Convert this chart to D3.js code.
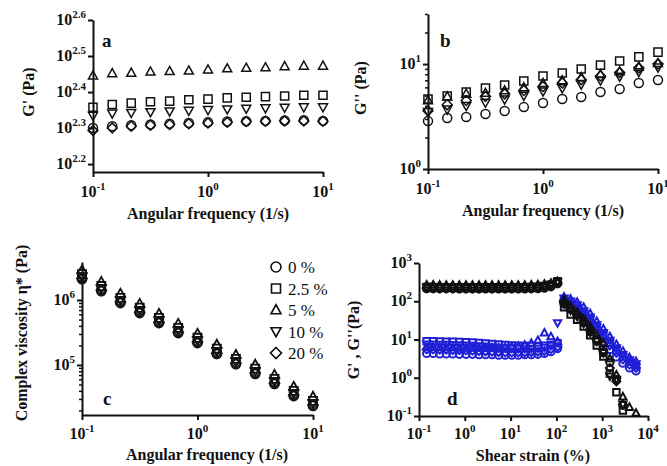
<!DOCTYPE html>
<html>
<head>
<meta charset="utf-8">
<script src="https://cdn.jsdelivr.net/npm/d3@7"></script>
<style>
body { margin: 0; background: #fff; }
svg text { font-family: "Liberation Serif", "Times New Roman", serif; }
</style>
</head>
<body>
<div id="chart"></div>
<script>
// ---- data ----
var concLabels = ["0 %", "2.5 %", "5 %", "10 %", "20 %"];
var shapes = ["circle", "square", "triangle", "triangleDown", "diamond"];

// angular frequency (1/s), panels a-c
var freq = [0.1, 0.147, 0.215, 0.316, 0.464, 0.681, 1, 1.47, 2.15, 3.16, 4.64, 6.81, 10];

// a: G' (Pa)
var gp0  = [199.5, 201.8, 203.2, 204.2, 205.1, 206.1, 207, 208, 208.4, 208.9, 209.4, 209.9, 208.9];
var gp25 = [228, 232, 234, 236, 237, 239, 240, 242, 243, 244, 245, 246, 246];
var gp5  = [279, 283, 284, 286, 287, 288, 290, 292, 293, 294, 296, 297, 297];
var gp10 = [216, 219, 220, 221, 222, 223, 224, 225, 226, 226.5, 227.5, 228, 228];
var gp20 = [196.3, 199.5, 201.8, 203.2, 204.2, 205.1, 206.1, 207, 208, 208.4, 208.9, 208.9, 208.4];

// b: G'' (Pa)
var gpp0  = [2.86, 3.06, 3.13, 3.34, 3.57, 3.89, 4.25, 4.64, 4.85, 5.41, 5.78, 6.59, 7.05];
var gpp25 = [4.64, 4.96, 5.41, 5.9, 6.31, 6.89, 7.69, 8.21, 8.96, 9.78, 10.7, 11.7, 13.0];
var gpp5  = [4.5, 4.9, 5.2, 5.3, 5.6, 6.0, 6.6, 7.0, 7.5, 8.0, 8.5, 9.4, 10.2];
var gpp10 = [3.5, 3.7, 4.0, 4.3, 4.6, 5.0, 5.5, 5.9, 6.4, 7.0, 7.6, 8.4, 9.3];
var gpp20 = [3.6, 4.1, 4.5, 4.9, 5.2, 5.6, 6.1, 6.6, 7.1, 7.7, 8.3, 9.2, 10.0];

// c: complex viscosity (Pa)
var eta0  = [2.1e6, 1.37e6, 9.0e5, 6.3e5, 4.43e5, 3.1e5, 2.18e5, 1.48e5, 1.03e5, 7.3e4, 5.1e4, 3.33e4, 2.34e4];
var eta25 = [2.5e6, 1.64e6, 1.08e6, 7.6e5, 5.3e5, 3.72e5, 2.62e5, 1.78e5, 1.24e5, 8.8e4, 6.1e4, 4.0e4, 2.8e4];
var eta5  = [2.9e6, 1.92e6, 1.26e6, 8.8e5, 6.2e5, 4.34e5, 3.05e5, 2.07e5, 1.44e5, 1.02e5, 7.1e4, 4.66e4, 3.28e4];
var eta10 = [2.3e6, 1.5e6, 9.9e5, 6.9e5, 4.87e5, 3.41e5, 2.4e5, 1.63e5, 1.13e5, 8.0e4, 5.6e4, 3.66e4, 2.57e4];
var eta20 = [2.16e6, 1.41e6, 9.3e5, 6.5e5, 4.56e5, 3.19e5, 2.25e5, 1.52e5, 1.06e5, 7.5e4, 5.25e4, 3.43e4, 2.41e4];

// d: strain sweep, strain (%)
var strain = [0.147, 0.204, 0.283, 0.394, 0.547, 0.76, 1.06, 1.47, 2.04, 2.83, 3.94, 5.47, 7.6, 10.6, 14.7, 20.4, 28.3,
  39.4, 54.7, 76, 106, 147, 204, 283, 394, 547, 760, 1060, 1470, 2040, 2830, 3940, 5470];
// G' (black)
var dGp0  = [212, 212, 211, 211, 211, 210, 210, 210, 210, 209, 209, 209, 209, 209, 209, 210, 211, 213, 220, 238, 285,
  90, 62, 44, 28, 16, 9, 4.5, 2.5, 0.9, 0.19, null, null];
var dGp25 = [235, 235, 234, 234, 233, 233, 233, 232, 232, 232, 232, 232, 232, 232, 233, 234, 236, 240, 250, 275, 335,
  70, 45, 33, 22, 13, 7, 3.6, 1.3, 0.42, 0.14, null, null];
var dGp5  = [268, 268, 267, 266, 266, 265, 265, 264, 264, 264, 264, 264, 264, 264, 265, 266, 268, 272, 282, 298, 330,
  110, 75, 52, 36, 22, 13, 8, 3.2, 1.2, 0.32, 0.17, 0.12];
var dGp10 = [228, 228, 227, 227, 226, 226, 226, 225, 225, 225, 225, 225, 225, 225, 226, 227, 229, 233, 244, 265, 318,
  85, 58, 40, 26, 15, 9, 4.5, 1.1, 0.9, 0.2, null, null];
var dGp20 = [222, 222, 221, 221, 220, 220, 220, 219, 219, 219, 219, 219, 219, 219, 220, 221, 223, 227, 236, 258, 308,
  95, 65, 45, 30, 18, 10, 5, 1.8, 0.8, 0.2, null, null];
// G'' (blue)
var dGpp0  = [4.3, 4.3, 4.2, 4.2, 4.2, 4.1, 4.1, 4.1, 4.0, 4.0, 4.0, 3.9, 3.9, 3.9, 3.9, 4.0, 4.0, 4.1, 4.3, 4.8, 5.8,
  85, 70, 52, 36, 24, 15, 9, 5.5, 3.5, 2.4, 1.8, 1.5];
var dGpp25 = [9.0, 9.0, 8.9, 8.8, 8.7, 8.6, 8.5, 8.3, 8.1, 7.9, 7.6, 7.4, 7.2, 7.0, 6.9, 6.8, 6.8, 6.8, 6.9, 7.2, 8.0,
  110, 95, 75, 52, 34, 21, 13, 8, 5.2, 3.6, 2.6, 2.1];
var dGpp5  = [6.5, 6.5, 6.4, 6.4, 6.3, 6.3, 6.2, 6.2, 6.1, 6.1, 6.1, 6.1, 6.2, 6.4, 6.7, 7.2, 8.0, 9.5, 15, 12, 9,
  130, 115, 95, 70, 48, 30, 19, 12, 7.5, 5, 3.4, 2.7];
var dGpp10 = [7.5, 7.5, 7.4, 7.4, 7.3, 7.2, 7.1, 7.0, 6.8, 6.6, 6.4, 6.2, 6.0, 5.9, 5.8, 5.8, 5.8, 5.9, 6.2, 7.0, 27,
  120, 100, 80, 56, 38, 24, 15, 9.5, 6, 4, 2.9, 2.3];
var dGpp20 = [5.5, 5.5, 5.4, 5.4, 5.3, 5.3, 5.2, 5.1, 5.0, 4.9, 4.8, 4.7, 4.6, 4.6, 4.6, 4.6, 4.7, 4.8, 5.0, 5.6, 6.5,
  100, 85, 65, 45, 30, 18, 11, 7, 4.5, 3.0, 2.2, 1.8];

// tick exponents
var freqExp = ["-1", "0", "1"];
var aYExp = ["2.2", "2.3", "2.4", "2.5", "2.6"];
var bYExp = ["0", "1"];
var bYMinor = [2, 3, 4, 5, 6, 7, 8, 9, 20, 30];
var cYExp = ["5", "6"];
var cYMinor = [2e4, 3e4, 4e4, 5e4, 6e4, 7e4, 8e4, 9e4, 2e5, 3e5, 4e5, 5e5, 6e5, 7e5, 8e5, 9e5, 2e6, 3e6];
var dXExp = ["-1", "0", "1", "2", "3", "4"];
var dYExp = ["-1", "0", "1", "2", "3"];

// ---- drawing ----
var svg = d3.select("#chart").append("svg")
    .attr("width", 667)
    .attr("height", 466);

function shapePath(type, r) {
  var p = d3.path();
  if (type == "circle") {
    p.arc(0, 0, r, 0, 2 * Math.PI);
  } else if (type == "square") {
    var s = r * 0.9;
    p.rect(-s, -s, 2 * s, 2 * s);
  } else if (type == "triangle") {
    p.moveTo(0, -r * 1.05); p.lineTo(r, r * 0.75); p.lineTo(-r, r * 0.75); p.closePath();
  } else if (type == "triangleDown") {
    p.moveTo(0, r * 1.05); p.lineTo(r, -r * 0.75); p.lineTo(-r, -r * 0.75); p.closePath();
  } else {
    p.moveTo(0, -r * 1.1); p.lineTo(r * 1.1, 0); p.lineTo(0, r * 1.1); p.lineTo(-r * 1.1, 0); p.closePath();
  }
  return p.toString();
}

function powLabel(g, x, y, exp, anchor) {
  var t = g.append("text")
      .attr("x", x).attr("y", y)
      .attr("text-anchor", anchor)
      .attr("font-weight", "bold")
      .attr("font-size", 16)
      .attr("fill", "#111");
  t.append("tspan").text("10");
  t.append("tspan").attr("dy", -7).attr("font-size", 11).text(exp);
}

function styleAxis(g) {
  g.selectAll("path.domain").attr("stroke", "#111").attr("stroke-width", 2);
  g.selectAll("line").attr("stroke", "#111").attr("stroke-width", 2);
  g.selectAll("text").remove();
}

function drawAxes(x, y, xExp, yExp, xLabDy, yMinor) {
  var y0 = y.range()[0], x0 = x.range()[0];
  var gx = svg.append("g").attr("transform", "translate(0," + y0 + ")");
  gx.call(d3.axisBottom(x).tickValues(xExp.map(function(e) { return Math.pow(10, +e); }))
      .tickSize(5).tickSizeOuter(0).tickFormat(""));
  styleAxis(gx);
  xExp.forEach(function(e) { powLabel(gx, x(Math.pow(10, +e)), xLabDy, e, "middle"); });

  var gy = svg.append("g").attr("transform", "translate(" + x0 + ",0)");
  gy.call(d3.axisLeft(y).tickValues(yExp.map(function(e) { return Math.pow(10, +e); }))
      .tickSize(5).tickSizeOuter(0).tickFormat(""));
  styleAxis(gy);
  if (yMinor) {
    var gm = gy.append("g");
    gm.call(d3.axisLeft(y).tickValues(yMinor).tickSize(3).tickSizeOuter(0).tickFormat(""));
    gm.select("path.domain").remove();
    gm.selectAll("line").attr("stroke", "#111").attr("stroke-width", 1.5);
    gm.selectAll("text").remove();
  }
  yExp.forEach(function(e) { powLabel(gy, -7, y(Math.pow(10, +e)) + 5, e, "end"); });
}

function drawPoints(x, y, xs, series, r, color, sw) {
  series.forEach(function(vals, k) {
    var pts = xs.map(function(d, i) { return {x: d, y: vals[i]}; })
      .filter(function(d) { return d.y != null && d.y >= y.domain()[0]; });
    svg.append("g").selectAll("path").data(pts).enter().append("path")
      .attr("d", shapePath(shapes[k], r))
      .attr("transform", function(d) { return "translate(" + x(d.x) + "," + y(d.y) + ")"; })
      .attr("fill", "none")
      .attr("stroke", color)
      .attr("stroke-width", sw);
  });
}

function text(x, y, s, size, weight, rotate) {
  var t = svg.append("text")
      .attr("font-size", size)
      .attr("font-weight", weight)
      .attr("fill", "#111")
      .attr("text-anchor", rotate ? "middle" : "start")
      .text(s);
  if (rotate) t.attr("transform", "translate(" + x + "," + y + ") rotate(-90)");
  else t.attr("x", x).attr("y", y);
  return t;
}

// panel a
var xa = d3.scaleLog().domain([0.1, 10]).range([93, 323]);
var ya = d3.scaleLog().domain([Math.pow(10, 2.178), Math.pow(10, 2.6)]).range([172, 20]);
drawAxes(xa, ya, freqExp, aYExp, 25);
drawPoints(xa, ya, freq, [gp0, gp25, gp5, gp10, gp20], 4.5, "#111", 1.5);
text(102, 47, "a", 19, "bold");
text(34, 92, "G' (Pa)", 16, "bold", true);
text(208, 219, "Angular frequency (1/s)", 16, "bold").attr("text-anchor", "middle");

// panel b
var xb = d3.scaleLog().domain([0.1, 10]).range([428, 658]);
var yb = d3.scaleLog().domain([1, 30]).range([169, 14]);
drawAxes(xb, yb, freqExp, bYExp, 25, bYMinor);
drawPoints(xb, yb, freq, [gpp0, gpp25, gpp5, gpp10, gpp20], 4.5, "#111", 1.5);
text(440, 47, "b", 19, "bold");
text(366, 88, "G'' (Pa)", 16, "bold", true);
text(543, 216, "Angular frequency (1/s)", 16, "bold").attr("text-anchor", "middle");

// panel c
var xc = d3.scaleLog().domain([0.1, 10]).range([82, 313]);
var yc = d3.scaleLog().domain([Math.pow(10, 4.23), Math.pow(10, 6.585)]).range([415, 262]);
drawAxes(xc, yc, freqExp, cYExp, 24, cYMinor);
drawPoints(xc, yc, freq, [eta0, eta25, eta5, eta10, eta20], 4.5, "#111", 1.8);
text(103, 405, "c", 19, "bold");
text(27, 333, "Complex viscosity \u03b7* (Pa)", 16, "bold", true);
text(207, 460, "Angular frequency (1/s)", 16, "bold").attr("text-anchor", "middle");

// legend
concLabels.forEach(function(l, k) {
  var ly = 267 + k * 21.5;
  svg.append("path").attr("d", shapePath(shapes[k], 5))
    .attr("transform", "translate(276," + ly + ")")
    .attr("fill", "none").attr("stroke", "#111").attr("stroke-width", 1.6);
  text(288, ly + 6, l, 17, "normal");
});

// panel d
var xd = d3.scaleLog().domain([0.1, 10000]).range([419, 648]);
var yd = d3.scaleLog().domain([0.1, 1000]).range([416, 263]);
drawAxes(xd, yd, dXExp, dYExp, 23);
drawPoints(xd, yd, strain, [dGpp0, dGpp25, dGpp5, dGpp10, dGpp20], 3.6, "#1f1fd6", 2);
drawPoints(xd, yd, strain, [dGp0, dGp25, dGp5, dGp10, dGp20], 3.6, "#111", 2);
text(447, 405, "d", 19, "bold");
text(359, 340, "G' , G''(Pa)", 16, "bold", true);
text(533, 461, "Shear strain (%)", 16, "bold").attr("text-anchor", "middle");
</script>
</body>
</html>
